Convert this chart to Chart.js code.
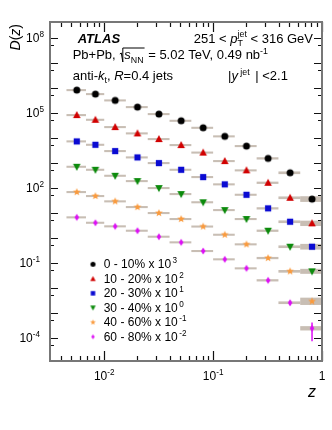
<!DOCTYPE html>
<html>
<head>
<meta charset="utf-8">
<script src="https://cdn.jsdelivr.net/npm/chart.js@4.4.0/dist/chart.umd.min.js"></script>
<style>
  html, body { margin: 0; padding: 0; background: #fff; }
  #wrap { width: 332px; height: 430px; position: relative; }
</style>
</head>
<body>
<div id="wrap"><canvas id="chart"></canvas></div>
<script>
// z bin edges and the point positions inside each bin
const zEdges = [0.0045, 0.0068, 0.01, 0.0158, 0.0251, 0.0398, 0.0631, 0.1, 0.158, 0.251, 0.398, 0.631, 1.0];
const zPoints = [0.0056, 0.0083, 0.0126, 0.0202, 0.0318, 0.0509, 0.081, 0.128, 0.2025, 0.32, 0.509, 0.81];

const centralities = ["0 - 10%", "10 - 20%", "20 - 30%", "30 - 40%", "40 - 60%", "60 - 80%"];
const scalePowers = [3, 2, 1, 0, -1, -2];

// D(z) before the x 10^n offsets
const d0to10 = [809, 560, 313, 169, 88.7, 47.9, 25.1, 11.4, 4.66, 1.50, 0.398, 0.0353];
const d10to20 = [809, 525, 268, 150, 88.7, 51.1, 25.6, 11.7, 4.97, 1.585, 0.398, 0.0377];
const d20to30 = [718, 525, 294, 164, 97.3, 52.5, 26.8, 13.7, 5.25, 1.50, 0.437, 0.0437];
const d30to40 = [692, 525, 302, 185, 97.3, 56.0, 26.3, 12.8, 5.60, 1.91, 0.437, 0.0453];
const d40to60 = [673, 466, 286, 169, 97.3, 56.0, 28.1, 13.2, 5.45, 1.54, 0.453, 0.0286];
const d60to80 = [655, 398, 286, 191, 110, 65.5, 29.4, 13.7, 5.97, 1.98, 0.251, 0.0238];

// relative systematic uncertainties (boxes)
const sys0to10 = [0.1, 0.1, 0.1, 0.1, 0.1, 0.1, 0.1, 0.1, 0.1, 0.11, 0.13, 0.3];
const sys10to20 = [0.1, 0.1, 0.1, 0.1, 0.1, 0.1, 0.1, 0.1, 0.1, 0.11, 0.13, 0.28];
const sys20to30 = [0.1, 0.1, 0.1, 0.1, 0.1, 0.1, 0.1, 0.1, 0.1, 0.11, 0.13, 0.3];
const sys30to40 = [0.1, 0.1, 0.1, 0.1, 0.1, 0.1, 0.1, 0.1, 0.1, 0.11, 0.13, 0.26];
const sys40to60 = [0.1, 0.1, 0.1, 0.1, 0.1, 0.1, 0.1, 0.1, 0.1, 0.11, 0.13, 0.4];
const sys60to80 = [0.1, 0.1, 0.1, 0.1, 0.1, 0.1, 0.1, 0.1, 0.1, 0.11, 0.13, 0.22];

// relative statistical uncertainty, only visible for the most peripheral bin
const stat60to80 = [0.03, 0.03, 0.04, 0.04, 0.05, 0.06, 0.07, 0.09, 0.11, 0.14, 0.2, 0.7];

const xTickLabels = [[0.01, "10", "-2"], [0.1, "10", "-1"], [1, "1", ""]];
const yTickLabels = [[1e8, "10", "8"], [1e5, "10", "5"], [1e2, "10", "2"], [1e-1, "10", "-1"], [1e-4, "10", "-4"]];

const series = [
  { vals: d0to10, sys: sys0to10, stat: null, color: "#000000", shape: "circle" },
  { vals: d10to20, sys: sys10to20, stat: null, color: "#d10000", shape: "up" },
  { vals: d20to30, sys: sys20to30, stat: null, color: "#0a0ad2", shape: "square" },
  { vals: d30to40, sys: sys30to40, stat: null, color: "#0b8a0b", shape: "down" },
  { vals: d40to60, sys: sys40to60, stat: null, color: "#fa9a3c", shape: "star" },
  { vals: d60to80, sys: sys60to80, stat: stat60to80, color: "#dd10f5", shape: "diamond" }
];

const FONT = '"Liberation Sans", Arial, Helvetica, sans-serif';
const font = (style, size) => `${style} ${size}px ${FONT}`;

function makeMarker(shape, color, k) {
  const w = Math.round(12 * k) + 2;
  const c = document.createElement("canvas");
  c.width = w; c.height = w;
  const g = c.getContext("2d");
  g.fillStyle = color;
  g.translate(w / 2, w / 2);
  g.scale(k, k);
  g.beginPath();
  if (shape === "circle") g.arc(0, 0, 3.5, 0, Math.PI * 2);
  else if (shape === "up") { g.moveTo(0, -3.9); g.lineTo(3.8, 3.1); g.lineTo(-3.8, 3.1); }
  else if (shape === "down") { g.moveTo(0, 3.9); g.lineTo(3.8, -3.1); g.lineTo(-3.8, -3.1); }
  else if (shape === "square") g.rect(-3.1, -3.1, 6.2, 6.2);
  else if (shape === "star") {
    for (let i = 0; i < 10; i++) {
      const r = i % 2 ? 1.7 : 4.1;
      const a = -Math.PI / 2 + i * Math.PI / 5;
      g.lineTo(r * Math.cos(a), r * Math.sin(a));
    }
  } else if (shape === "diamond") { g.moveTo(0, -3.4); g.lineTo(2.3, 0); g.lineTo(0, 3.4); g.lineTo(-2.3, 0); }
  g.closePath();
  g.fill();
  return c;
}

// draws text made of parts [text, kind]; returns its width
function drawRich(ctx, x, y, parts, size, dry) {
  let cx = x;
  for (const [t, kind] of parts) {
    if (kind === "gap") { cx += t; continue; }
    let style = "", s = size, dy = 0, adv = true;
    if (kind === "i") style = "italic";
    if (kind === "b") style = "italic bold";
    if (kind === "sup") { s = size * 0.68; dy = -size * 0.42; }
    if (kind === "sub" || kind === "subk") { s = size * 0.68; dy = size * 0.26; }
    if (kind === "subk") adv = false;
    ctx.font = font(style, s);
    if (!dry) ctx.fillText(t, cx, y + dy);
    if (adv) cx += ctx.measureText(t).width;
  }
  return cx - x;
}

const atlasPlugin = {
  id: "atlas",
  beforeDraw(chart) {
    const ctx = chart.ctx;
    ctx.save();
    ctx.fillStyle = "#fff";
    ctx.fillRect(0, 0, chart.width, chart.height);
    ctx.restore();
  },
  beforeDatasetsDraw(chart) {
    const ctx = chart.ctx, xs = chart.scales.x, ys = chart.scales.y;
    ctx.save();
    ctx.fillStyle = "rgba(182,168,155,0.75)";
    series.forEach((s, i) => {
      const f = Math.pow(10, scalePowers[i]);
      s.vals.forEach((v, j) => {
        const yv = v * f;
        const x1 = xs.getPixelForValue(zEdges[j]), x2 = xs.getPixelForValue(zEdges[j + 1]);
        const y1 = ys.getPixelForValue(yv * (1 + s.sys[j])), y2 = ys.getPixelForValue(yv / (1 + s.sys[j]));
        ctx.fillRect(x1, y1, x2 - x1, y2 - y1);
      });
    });
    series.forEach((s, i) => {
      if (!s.stat) return;
      const f = Math.pow(10, scalePowers[i]);
      ctx.strokeStyle = s.color;
      ctx.lineWidth = 1.5;
      s.vals.forEach((v, j) => {
        const yv = v * f, x = xs.getPixelForValue(zPoints[j]);
        ctx.beginPath();
        ctx.moveTo(x, ys.getPixelForValue(yv * (1 + s.stat[j])));
        ctx.lineTo(x, ys.getPixelForValue(yv * (1 - s.stat[j])));
        ctx.stroke();
      });
    });
    ctx.restore();
  },
  afterDraw(chart) {
    const ctx = chart.ctx, xs = chart.scales.x, ys = chart.scales.y;
    const a = chart.chartArea;
    ctx.save();
    ctx.textAlign = "left";
    ctx.textBaseline = "alphabetic";

    // ticks
    ctx.strokeStyle = "#111";
    ctx.lineWidth = 1.2;
    ctx.beginPath();
    for (let d = -3; d <= 0; d++) {
      for (let m = 1; m <= 9; m++) {
        const v = m * Math.pow(10, d);
        if (v < xs.min || v > xs.max * 1.0001) continue;
        const x = Math.round(xs.getPixelForValue(v)) + 0.5;
        const len = m === 1 ? 10 : 5;
        ctx.moveTo(x, a.bottom); ctx.lineTo(x, a.bottom - len);
        ctx.moveTo(x, a.top); ctx.lineTo(x, a.top + len);
      }
    }
    for (let d = -5; d <= 8; d++) {
      [1, 5].forEach(m => {
        const v = m * Math.pow(10, d);
        if (v < ys.min || v > ys.max) return;
        const y = Math.round(ys.getPixelForValue(v)) + 0.5;
        const len = m === 1 ? 8 : 4;
        ctx.moveTo(a.left, y); ctx.lineTo(a.left + len, y);
        ctx.moveTo(a.right, y); ctx.lineTo(a.right - len, y);
      });
    }
    ctx.stroke();

    // frame
    ctx.strokeStyle = "#777";
    ctx.lineWidth = 2;
    ctx.strokeRect(a.left, a.top, a.right - a.left, a.bottom - a.top);

    ctx.fillStyle = "#000";
    // x tick labels
    xTickLabels.forEach(([v, base, exp]) => {
      const parts = [[base, "n"]];
      if (exp) parts.push([exp, "sup"]);
      const w = drawRich(ctx, 0, 0, parts, 12, true);
      drawRich(ctx, xs.getPixelForValue(v) - w / 2, 380, parts, 12);
    });
    // y tick labels
    yTickLabels.forEach(([v, base, exp]) => {
      const parts = [[base, "n"], [exp, "sup"]];
      const w = drawRich(ctx, 0, 0, parts, 12, true);
      const right = exp.startsWith("-") ? 40 : 44;
      drawRich(ctx, right - w, ys.getPixelForValue(v) + 4.5, parts, 12);
    });

    // axis titles
    drawRich(ctx, 308, 397, [["z", "i"]], 16);
    ctx.save();
    ctx.translate(19.5, 24);
    ctx.rotate(-Math.PI / 2);
    const dz = [["D", "i"], ["(", "n"], ["z", "i"], [")", "n"]];
    const wdz = drawRich(ctx, 0, 0, dz, 14, true);
    drawRich(ctx, -wdz, 0, dz, 14);
    ctx.restore();

    // annotations
    drawRich(ctx, 77.7, 42.7, [["ATLAS", "b"]], 13);
    const pt = [["251 < ", "n"], ["p", "i"], ["T", "subk"], ["jet", "sup"], [" < 316 GeV", "n"]];
    const wpt = drawRich(ctx, 0, 0, pt, 13, true);
    drawRich(ctx, 313 - wpt, 42.7, pt, 13);

    let x = 72.7 + drawRich(ctx, 72.7, 59.3, [["Pb+Pb, ", "n"]], 13);
    x += 2;
    const sStart = x + 3;
    const sEnd = sStart + drawRich(ctx, sStart, 59.3, [["s", "i"], ["NN", "sub"]], 13);
    ctx.strokeStyle = "#000";
    ctx.lineWidth = 1;
    ctx.beginPath();
    ctx.moveTo(x - 1.5, 54); ctx.lineTo(x, 53); ctx.lineTo(x + 1.5, 62);
    ctx.lineTo(x + 1.5, 48); ctx.lineTo(sEnd + 1, 48);
    ctx.stroke();
    drawRich(ctx, sEnd + 1, 59.3, [[" = 5.02 TeV, 0.49 nb", "n"], ["-1", "sup"]], 13);

    drawRich(ctx, 72.7, 80, [["anti-", "n"], ["k", "i"], ["t", "sub"], [", ", "n"], ["R", "i"], ["=0.4 jets", "n"]], 13);
    drawRich(ctx, 228, 80, [["|", "n"], ["y", "i"], [" jet", "sup"], [2, "gap"], [" | <2.1", "n"]], 13);

    // legend
    series.forEach((s, i) => {
      const cy = 264.3 + i * 14.5;
      const m = makeMarker(s.shape, s.color, 0.72);
      ctx.drawImage(m, 93 - m.width / 2, cy - m.height / 2);
      drawRich(ctx, 103.7, cy + 3.8, [[centralities[i] + " x 10", "n"], [1.5, "gap"], [String(scalePowers[i]), "sup"]], 12);
    });
    ctx.restore();
  }
};

const datasets = series.map((s, i) => ({
  label: centralities[i],
  data: zPoints.map((z, j) => ({ x: z, y: s.vals[j] * Math.pow(10, scalePowers[i]) })),
  pointStyle: makeMarker(s.shape, s.color, 1),
  pointRadius: 4,
  showLine: false
}));

new Chart(document.getElementById("chart"), {
  type: "scatter",
  data: { datasets },
  options: {
    responsive: true,
    maintainAspectRatio: false,
    animation: false,
    events: [],
    layout: { padding: { left: 50, right: 10, top: 22, bottom: 69 } },
    plugins: { legend: { display: false }, tooltip: { enabled: false } },
    scales: {
      x: { type: "logarithmic", min: 0.003177, max: 1, display: false },
      y: { type: "logarithmic", min: 1.17e-5, max: 4.3e8, display: false }
    }
  },
  plugins: [atlasPlugin]
});
</script>
</body>
</html>
